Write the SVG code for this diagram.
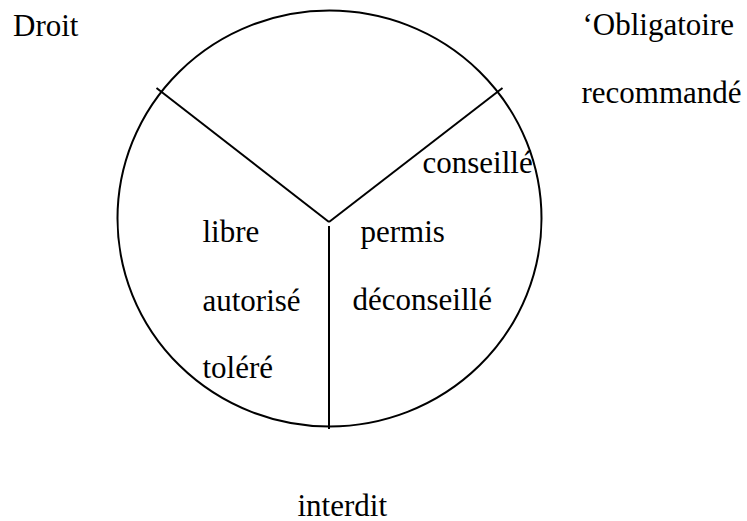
<svg xmlns="http://www.w3.org/2000/svg" width="747" height="521" viewBox="0 0 747 521">
<style>
.s{fill:none;stroke:#000;stroke-width:2}
.t{font-family:'Liberation Serif','Times New Roman',Times,serif;font-size:31px;fill:#000}
</style>
<rect width="747" height="521" fill="#fff"/>
<g id="circle"><ellipse class="s" cx="329.5" cy="218.5" rx="212" ry="208"/></g>
<g id="connectors">
<line class="s" x1="156.5" y1="88" x2="329" y2="222"/>
<line class="s" x1="502.5" y1="88" x2="329" y2="222"/>
<line class="s" x1="329" y1="226" x2="329" y2="429"/>
</g>
<g id="labels" class="t" font-family="Liberation Serif, serif">
<text x="13" y="36">Droit</text>
<text x="582.5" y="35">‘Obligatoire</text>
<text x="581.5" y="103">recommandé</text>
<text x="422.5" y="173">conseillé</text>
<text x="202.5" y="241.5">libre</text>
<text x="360.5" y="241.5">permis</text>
<text x="202.5" y="310.5">autorisé</text>
<text x="352.5" y="310">déconseillé</text>
<text x="202.5" y="378">toléré</text>
<text x="297.5" y="516">interdit</text>
</g>
</svg>
